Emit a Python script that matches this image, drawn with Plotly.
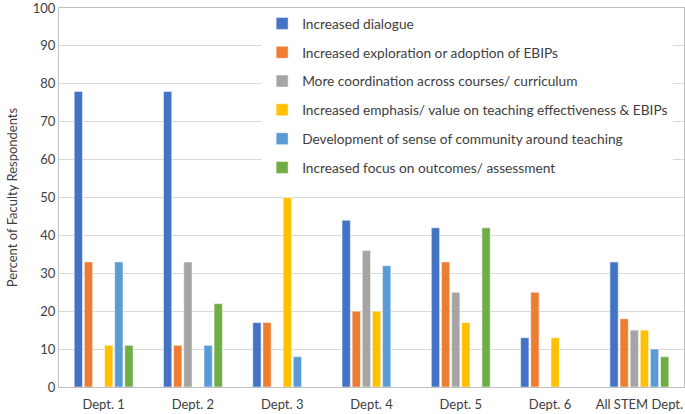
import plotly.graph_objects as go

depts = ["Dept. 1", "Dept. 2", "Dept. 3", "Dept. 4", "Dept. 5", "Dept. 6", "All STEM Dept."]

dialogue = [78, 78, 17, 44, 42, 13, 33]
exploration = [33, 11, 17, 20, 33, 25, 18]
coordination = [0, 33, 0, 36, 25, 0, 15]
emphasis = [11, 0, 50, 20, 17, 13, 15]
community = [33, 11, 8, 32, 0, 0, 10]
outcomes = [11, 22, 0, 0, 42, 0, 8]

series = [
    ("Increased dialogue", dialogue, "#4472C4"),
    ("Increased exploration or adoption of EBIPs", exploration, "#ED7D31"),
    ("More coordination across courses/ curriculum", coordination, "#A5A5A5"),
    ("Increased emphasis/ value on teaching effectiveness & EBIPs", emphasis, "#FFC000"),
    ("Development of sense of community around teaching", community, "#5B9BD5"),
    ("Increased focus on outcomes/ assessment", outcomes, "#70AD47"),
]

fig = go.Figure()
for i, (name, vals, color) in enumerate(series):
    fig.add_trace(go.Bar(
        x=depts, y=vals, name=name, legendgroup=f"g{i}",
        marker=dict(color=color, line=dict(color="white", width=0.5)),
    ))

fig.update_layout(
    width=685, height=414,
    margin=dict(l=59, r=1, t=8, b=27),
    paper_bgcolor="white", plot_bgcolor="white",
    font=dict(family="Lato", size=13, color="#404040"),
    barmode="group", bargap=0.32, bargroupgap=0.18,
    showlegend=True,
    legend=dict(
        x=0.325, y=1.0, xanchor="left", yanchor="top",
        bgcolor="white", borderwidth=0,
        font=dict(size=13.7, color="#404040"),
        traceorder="grouped", tracegroupgap=8,
        itemwidth=30,
    ),
    xaxis=dict(
        showline=True, linecolor="#BFBFBF", linewidth=1, mirror=True,
        ticks="", tickfont=dict(size=13, color="#404040"), automargin=False,
        ticklabelstandoff=5,
    ),
    yaxis=dict(
        range=[0, 100], dtick=10, showgrid=True, gridcolor="#D9D9D9",
        showline=True, linecolor="#BFBFBF", linewidth=1, mirror=True,
        zeroline=False, ticks="", tickfont=dict(size=13, color="#404040"),
        ticklabeloverflow="allow", automargin=False,
        title=dict(text="Percent of Faculty Respondents", font=dict(size=13, color="#404040"), standoff=12),
    ),
)

fig.write_html("out.html", config={"displayModeBar": False},
               post_script="document.body.style.margin='0';")
